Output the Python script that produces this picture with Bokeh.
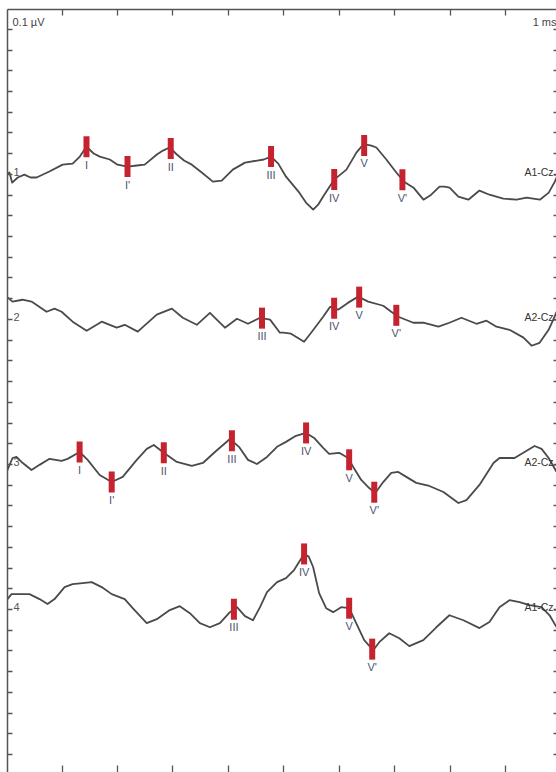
import numpy as np
from bokeh.plotting import figure
from bokeh.models import Range1d, FixedTicker, LinearAxis, CustomJSTickFormatter
from bokeh.core.properties import value
from bokeh.embed import file_html
from bokeh.resources import INLINE

# ---------------- data: latency (ms) and amplitude (µV, relative to trace baseline) ----------------
t1 = [0.0, 0.05, 0.10, 0.20, 0.32, 0.43, 0.54, 0.77, 1.01, 1.19, 1.32, 1.44, 1.57, 1.68, 1.86, 2.00,
      2.18, 2.35, 2.49, 2.71, 2.82, 2.94, 3.07, 3.20, 3.34, 3.52, 3.72, 3.88, 4.08, 4.30, 4.52, 4.64,
      4.77, 4.90, 5.04, 5.28, 5.40, 5.53, 5.62, 5.71, 5.91, 6.13, 6.31, 6.40, 6.49, 6.58, 6.67, 6.85,
      7.03, 7.17, 7.34, 7.52, 7.66, 7.81, 7.90, 7.99, 8.15, 8.33, 8.53, 8.71, 8.96, 9.20, 9.38, 9.62,
      9.78, 9.89, 9.92]
a1 = [-0.001, 0.009, -0.040, -0.015, -0.001, -0.015, -0.015, 0.014, 0.047, 0.052, 0.086, 0.134, 0.101, 0.086, 0.072, 0.047,
      0.038, 0.043, 0.047, 0.096, 0.115, 0.130, 0.096, 0.067, 0.047, 0.009, -0.035, -0.030, 0.023, 0.057, 0.067, 0.072,
      0.086, 0.052, -0.011, -0.088, -0.136, -0.170, -0.146, -0.107, -0.025, 0.023, 0.105, 0.134, 0.144, 0.139, 0.130, 0.072,
      0.009, -0.035, -0.064, -0.122, -0.098, -0.059, -0.059, -0.064, -0.107, -0.122, -0.078, -0.098, -0.117, -0.122, -0.112, -0.122,
      -0.088, -0.035, -0.015]

t2 = [0.0, 0.105, 0.286, 0.448, 0.720, 0.864, 0.991, 1.19, 1.443, 1.714, 1.985, 2.13, 2.365, 2.708, 2.98, 3.178,
      3.43, 3.667, 3.938, 4.155, 4.354, 4.571, 4.752, 4.93, 4.99, 5.13, 5.366, 5.493, 5.71, 5.836, 5.98, 6.162,
      6.342, 6.523, 6.794, 6.939, 7.066, 7.337, 7.517, 7.789, 7.988, 8.205, 8.476, 8.657, 8.837, 9.072, 9.325, 9.47,
      9.615, 9.778, 9.886, 9.92]
a2 = [0.110, 0.086, 0.095, 0.086, 0.037, 0.052, 0.037, -0.011, -0.055, -0.011, -0.040, -0.026, -0.059, 0.023, 0.052, 0.008,
      -0.026, 0.032, -0.040, 0.003, -0.021, 0.008, -0.001, -0.064, -0.064, -0.069, -0.108, -0.064, 0.013, 0.061, 0.047, 0.081,
      0.110, 0.086, 0.066, 0.037, 0.013, -0.016, -0.016, -0.035, -0.016, 0.008, -0.021, -0.006, -0.035, -0.050, -0.088, -0.127,
      -0.113, -0.050, 0.013, 0.037]

t3 = [0.0, 0.105, 0.177, 0.268, 0.448, 0.593, 0.774, 0.991, 1.099, 1.316, 1.461, 1.678, 1.895, 2.094, 2.347, 2.528,
      2.654, 2.817, 3.07, 3.341, 3.54, 3.757, 4.028, 4.191, 4.354, 4.516, 4.697, 4.878, 5.04, 5.22, 5.402, 5.547,
      5.71, 5.818, 5.999, 6.161, 6.252, 6.397, 6.541, 6.65, 6.794, 6.939, 7.065, 7.21, 7.39, 7.626, 7.88, 8.15,
      8.295, 8.53, 8.783, 8.891, 9.163, 9.344, 9.524, 9.651, 9.778, 9.92]
a3 = [-0.036, 0.031, 0.036, 0.012, -0.027, -0.002, 0.027, 0.017, 0.027, 0.060, 0.022, -0.051, -0.085, -0.060, 0.022, 0.075,
      0.094, 0.060, 0.012, -0.007, 0.007, 0.060, 0.123, 0.085, 0.022, 0.002, 0.036, 0.085, 0.109, 0.138, 0.152, 0.128,
      0.080, 0.051, 0.056, 0.031, -0.012, -0.075, -0.114, -0.138, -0.085, -0.041, -0.036, -0.060, -0.089, -0.104, -0.133, -0.186,
      -0.172, -0.099, 0.007, 0.031, 0.031, 0.060, 0.089, 0.075, 0.031, -0.035]

t4 = [0.0, 0.087, 0.231, 0.412, 0.593, 0.738, 0.864, 1.045, 1.19, 1.37, 1.533, 1.714, 1.895, 2.13, 2.274, 2.527,
      2.708, 2.943, 3.124, 3.305, 3.486, 3.667, 3.847, 4.028, 4.155, 4.3, 4.444, 4.571, 4.697, 4.878, 5.04, 5.185,
      5.366, 5.45, 5.529, 5.637, 5.764, 5.89, 6.035, 6.179, 6.306, 6.451, 6.613, 6.722, 6.903, 7.084, 7.264, 7.517,
      7.752, 7.988, 8.241, 8.53, 8.71, 8.891, 9.072, 9.253, 9.434, 9.651, 9.795, 9.92]
a4 = [0.045, 0.074, 0.074, 0.074, 0.050, 0.026, 0.050, 0.108, 0.122, 0.127, 0.132, 0.108, 0.074, 0.050, 0.006, -0.066,
      -0.047, -0.003, 0.016, -0.018, -0.066, -0.086, -0.066, -0.013, 0.011, -0.032, -0.052, 0.011, 0.084, 0.132, 0.151, 0.190,
      0.268, 0.255, 0.205, 0.079, 0.006, -0.013, 0.011, 0.006, -0.066, -0.148, -0.197, -0.158, -0.115, -0.139, -0.177, -0.148,
      -0.086, -0.028, -0.052, -0.090, -0.061, 0.011, 0.045, 0.035, 0.021, 0.011, -0.028, -0.085]

# wave latencies (ms) and names
w1_lat = [1.44, 2.18, 2.96, 4.77, 5.91, 6.45, 7.14]
w1_name = ["I", "I'", "II", "III", "IV", "V", "V'"]
w2_lat = [4.607, 5.908, 6.36, 7.03]
w2_name = ["III", "IV", "V", "V'"]
w3_lat = [1.316, 1.895, 2.835, 4.064, 5.402, 6.179, 6.632]
w3_name = ["I", "I'", "II", "III", "IV", "V", "V'"]
w4_lat = [4.10, 5.366, 6.179, 6.595]
w4_name = ["III", "IV", "V", "V'"]

trace_ids = ["1", "2", "3", "4"]
montages = ["A1-Cz.", "A2-Cz.", "A2-Cz.", "A1-Cz."]
x_ticks = [1, 2, 3, 4, 5, 6, 7, 8, 9]
y_ticks = [round(0.1 * k, 1) for k in range(36)]

# ---------------- layout / style ----------------
offsets = [2.8, 2.1, 1.4, 0.7]
FONT = value("Liberation Sans")
LINE_C = "#4a4a4a"
AX_C = "#555555"
RED = "#c62330"
LBL_C = "#4b5570"

p = figure(width=556, height=772, x_range=Range1d(0.015, 9.92), y_range=Range1d(-0.087, 3.596),
           output_backend="svg", toolbar_location=None, x_axis_location=None, y_axis_location=None,
           min_border=0)
p.min_border_top = 9
p.min_border_left = 7
p.outline_line_color = None
p.grid.grid_line_color = None
p.background_fill_color = "white"
p.border_fill_color = "white"

blank = CustomJSTickFormatter(code="return ''")


def make_axis(ticks, tick_in, show_line):
    return LinearAxis(ticker=FixedTicker(ticks=ticks, minor_ticks=[]), formatter=blank,
                      major_label_text_font_size="0px", major_label_standoff=0,
                      major_tick_in=tick_in, major_tick_out=0, minor_tick_in=0, minor_tick_out=0,
                      axis_line_color=AX_C if show_line else None, axis_line_width=1.5,
                      major_tick_line_color=AX_C, major_tick_line_width=1.3)


p.add_layout(make_axis(y_ticks, 5, True), "left")
p.add_layout(make_axis(y_ticks, 3, False), "right")
p.add_layout(make_axis(x_ticks, 6, True), "above")
p.add_layout(make_axis(x_ticks, 7, False), "below")

traces = [(t1, a1, w1_lat, w1_name), (t2, a2, w2_lat, w2_name),
          (t3, a3, w3_lat, w3_name), (t4, a4, w4_lat, w4_name)]

for (t, a, wl, wn), off, tid, mont in zip(traces, offsets, trace_ids, montages):
    y = np.array(a) + off
    p.line(t, y, line_color=LINE_C, line_width=1.8, line_join="round")
    wy = np.interp(wl, t, y)
    p.rect(x=wl, y=wy, width=6, height=21, width_units="screen", height_units="screen",
           fill_color=RED, line_color=None)
    p.text(x=wl, y=wy, text=wn, text_font=FONT, text_font_size="11px", text_color=LBL_C,
           text_align="center", text_baseline="top", y_offset=12)
    p.text(x=[p.x_range.start], y=[off], text=[tid], text_font=FONT, text_font_size="11px",
           text_color="#555555", text_align="left", text_baseline="middle", x_offset=6, y_offset=-2)
    p.text(x=[p.x_range.end], y=[off], text=[mont], text_font=FONT, text_font_size="10.5px",
           text_color="#333333", text_align="right", text_baseline="middle", x_offset=0, y_offset=-2)

p.text(x=[p.x_range.start], y=[p.y_range.end], text=["0.1 µV"], text_font=FONT, text_font_size="11px",
       text_color="#444444", text_align="left", text_baseline="top", x_offset=5, y_offset=6)
p.text(x=[p.x_range.end], y=[p.y_range.end], text=["1 ms"], text_font=FONT, text_font_size="11px",
       text_color="#444444", text_align="right", text_baseline="top", x_offset=0, y_offset=6)

open("out.html", "w").write(file_html(p, INLINE))
